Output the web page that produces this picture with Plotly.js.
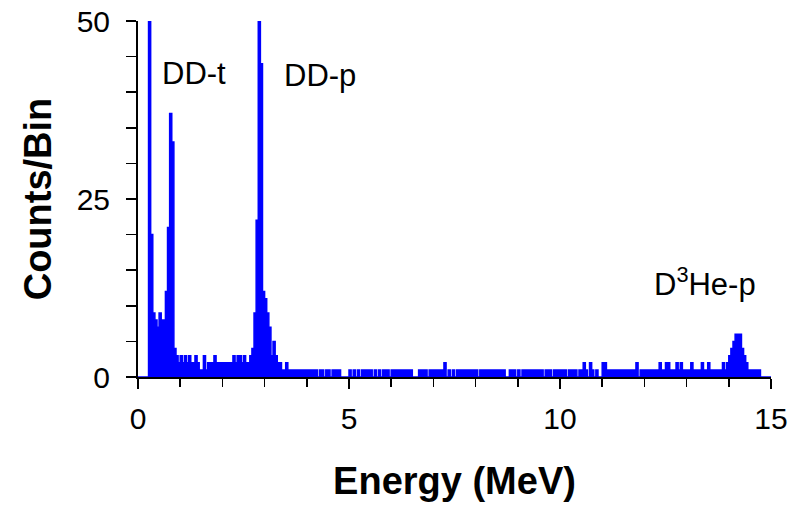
<!DOCTYPE html>
<html>
<head>
<meta charset="utf-8">
<script src="https://cdn.plot.ly/plotly-3.0.1.min.js"></script>
<style>
  html, body { margin: 0; padding: 0; background: #ffffff; }
  #chart { width: 795px; height: 505px; }
</style>
</head>
<body>
<div id="chart"></div>
<script>
// Histogram: counts per 0.05 MeV bin, one array per MeV (20 bins each)
const binWidth = 0.05;
const mev0  = [0,0,0,0,0,62,20,9,8,7,9,8,8,12,21,37,33,4,3,2];
const mev1  = [3,2,3,2,3,2,2,3,2,1,1,3,1,2,2,2,3,2,2,2];
const mev2  = [2,2,2,2,2,3,2,3,3,2,3,2,2,3,4,9,22,55,44,12];
const mev3  = [11,9,7,3,5,3,2,2,1,1,2,1,1,1,1,1,1,1,1,1];
const mev4  = [1,1,1,1,1,0,1,1,0,1,1,0,1,1,1,1,0,0,0,0];
const mev5  = [1,0,1,0,1,0,1,1,1,1,1,0,1,0,1,0,1,1,1,0];
const mev6  = [1,1,1,1,1,1,1,1,1,1,0,0,0,1,1,1,1,0,1,1];
const mev7  = [1,1,1,1,1,2,0,1,0,1,0,1,1,1,1,1,1,1,1,1];
const mev8  = [1,0,1,1,1,1,1,1,1,1,1,1,1,1,0,0,1,1,1,0];
const mev9  = [1,0,1,1,1,1,1,1,1,1,1,1,0,1,1,1,0,1,1,1];
const mev10 = [1,1,1,0,1,1,1,1,0,1,1,2,1,0,2,1,0,1,0,0];
const mev11 = [2,2,1,1,1,1,1,1,1,1,1,1,1,1,1,1,2,0,1,1];
const mev12 = [1,1,1,1,1,1,1,2,1,1,2,2,1,1,1,2,1,2,1,1];
const mev13 = [1,1,2,1,1,1,1,2,1,1,2,1,1,1,1,1,1,2,1,2];
const mev14 = [3,4,5,6,6,6,4,3,2,1,1,1,1,1,1,0,0,0,0,0];

const xTickVals = [0, 5, 10, 15];
const xTickText = ['0', '5', '10', '15'];
const yTickVals = [0, 25, 50];
const yTickText = ['0', '25', '50'];

const peakLabels = [
  {text: 'DD-t', x: 1.33, y: 42.6},
  {text: 'DD-p', x: 4.31, y: 42.4},
  {text: 'D<sup>3</sup>He-p', x: 13.44, y: 13.3}
];

const counts = [].concat(mev0, mev1, mev2, mev3, mev4, mev5, mev6, mev7,
                         mev8, mev9, mev10, mev11, mev12, mev13, mev14);
const xs = counts.map((c, i) => +(i * binWidth).toFixed(3));
const ys = counts.slice();
xs.push(+(counts.length * binWidth).toFixed(3));
ys.push(counts[counts.length - 1]);

const FONT = 'Liberation Sans, Arial, Helvetica, sans-serif';

const trace = {
  type: 'scatter',
  mode: 'lines',
  x: xs,
  y: ys,
  line: {shape: 'hv', color: '#0000ff', width: 1.5},
  fill: 'tozeroy',
  fillcolor: '#0000ff',
  hoverinfo: 'skip'
};

const layout = {
  width: 795,
  height: 505,
  margin: {l: 138, r: 24, t: 21, b: 128},
  paper_bgcolor: '#ffffff',
  plot_bgcolor: '#ffffff',
  showlegend: false,
  font: {family: FONT, color: '#000000', size: 30},
  xaxis: {
    range: [0, 15],
    tickvals: xTickVals,
    ticktext: xTickText,
    ticks: 'outside',
    ticklen: 10,
    tickwidth: 1.5,
    tickcolor: '#000000',
    ticklabelstandoff: 4,
    minor: {dtick: 1, tick0: 0, ticks: 'outside', ticklen: 8, tickwidth: 1.5, tickcolor: '#000000'},
    showline: true,
    linecolor: '#000000',
    linewidth: 2,
    showgrid: false,
    zeroline: false,
    tickfont: {family: FONT, size: 30, color: '#000000'},
    title: {text: '<b>Energy (MeV)</b>', font: {family: FONT, size: 38, color: '#000000'}, standoff: 33},
    automargin: false,
    fixedrange: true
  },
  yaxis: {
    range: [0, 50],
    tickvals: yTickVals,
    ticktext: yTickText,
    ticks: 'outside',
    ticklen: 10,
    tickwidth: 1.5,
    tickcolor: '#000000',
    ticklabelstandoff: 10,
    minor: {dtick: 5, tick0: 0, ticks: 'outside', ticklen: 10, tickwidth: 1.5, tickcolor: '#000000'},
    showline: true,
    linecolor: '#000000',
    linewidth: 2,
    showgrid: false,
    zeroline: false,
    tickfont: {family: FONT, size: 30, color: '#000000'},
    title: {text: '<b>Counts/Bin</b>', font: {family: FONT, size: 38, color: '#000000'}, standoff: 13},
    automargin: false,
    fixedrange: true
  },
  annotations: peakLabels.map(p => ({
    text: p.text, x: p.x, y: p.y, xref: 'x', yref: 'y',
    showarrow: false,
    font: {family: FONT, size: 31, color: '#000000'},
    xanchor: 'center', yanchor: 'middle'
  }))
};

Plotly.newPlot('chart', [trace], layout, {staticPlot: true, displayModeBar: false});
</script>
</body>
</html>
